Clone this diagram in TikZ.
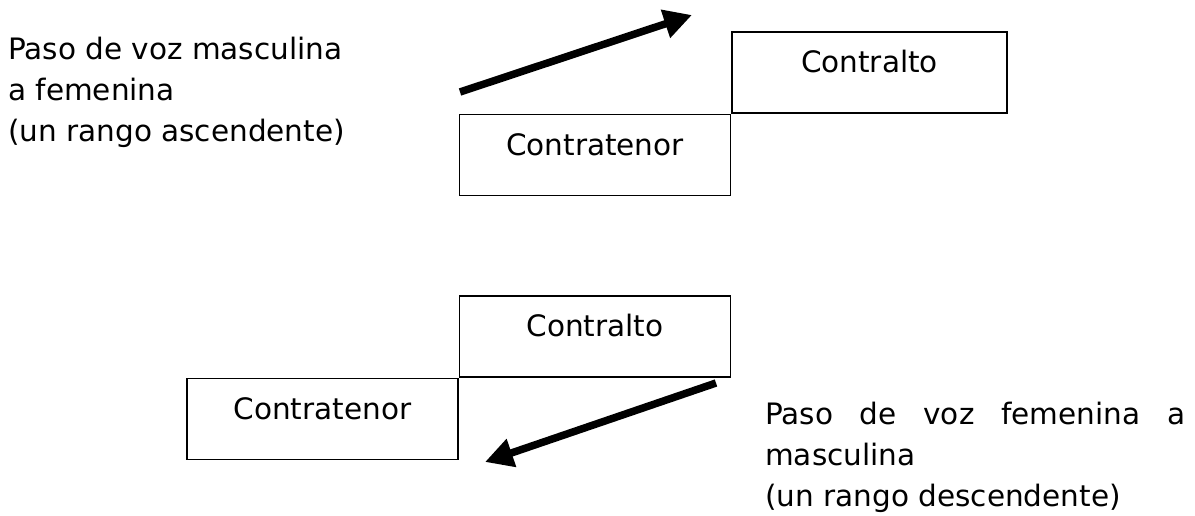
\documentclass[tikz,border=0pt]{standalone}
\usepackage{fontspec}
\setmainfont{DejaVu Sans}
\usetikzlibrary{arrows.meta}

\begin{document}
\begin{tikzpicture}[x=1pt, y=-1pt, font=\fontsize{29.5}{41}\selectfont]
			\tikzstyle{voicebox}=[
			draw,
			rectangle,
			line width=1.5pt,
			minimum width=271pt,
			minimum height=81pt,
			text height=0.68em,
			text depth=0.68em,
			inner sep=0pt
			]
			\tikzstyle{caption}=[
			inner sep=0pt,
			anchor=north west,
			align=left
			]
			\tikzstyle{bigarrow}=[line width=7.5pt, -{Triangle[length=28pt,width=28pt]}]
			\useasboundingbox (0,0) rectangle (1195,515);
			% ascending
			\node[caption] (riseText) at (8,37) {Paso de voz masculina\\a femenina\\(un rango ascendente)};
			\node[voicebox] (tenorUp) at (595,155) {Contratenor};
			\node[voicebox, anchor=south west, minimum width=275pt] (altoUp) at (tenorUp.north east) {Contralto};
			\coordinate (riseFrom) at (460,92);
			\coordinate (riseTo) at (692,15);
			\draw[bigarrow] (riseFrom) -- (riseTo);
			% descending
			\node[voicebox] (altoDown) at (595,336.5) {Contralto};
			\node[voicebox, anchor=north east] (tenorDown) at (altoDown.south west) {Contratenor};
			\coordinate (fallFrom) at (716,383);
			\coordinate (fallTo) at (485,462);
			\draw[bigarrow] (fallFrom) -- (fallTo);
			\node[caption, text width=420pt, align=justify] (fallText) at (765,402) {Paso de voz femenina a \mbox{masculina}\\(un rango descendente)};
			%\node[draw=red, fit=(tenorUp) (altoUp)] {};
		\end{tikzpicture}
\end{document}
